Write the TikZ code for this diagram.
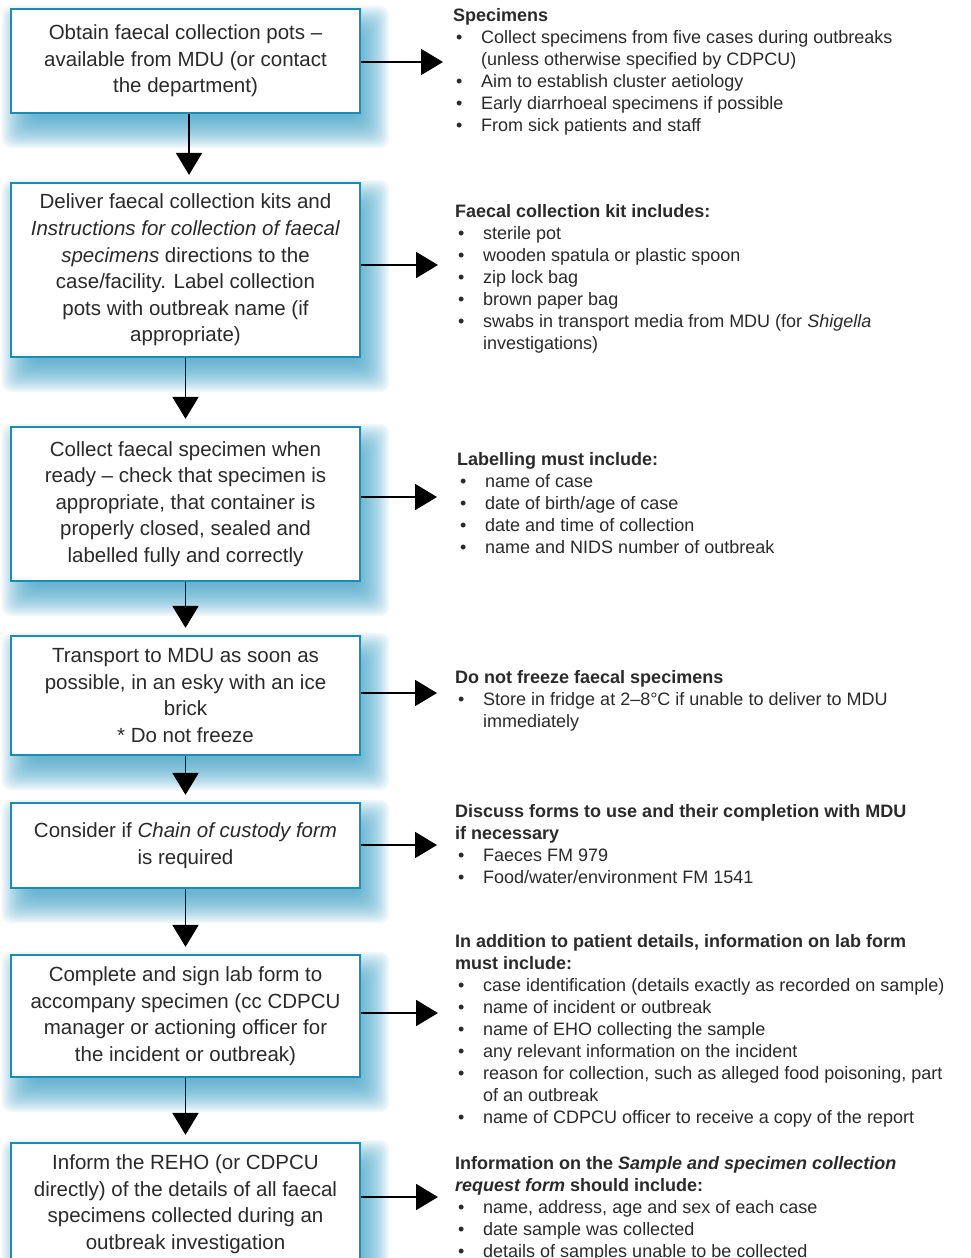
\documentclass[tikz,border=0pt]{standalone}
\usepackage{fontspec}
\setmainfont{Liberation Sans}
\usetikzlibrary{arrows.meta,backgrounds}
\definecolor{boxc}{HTML}{1A8CB5}
\definecolor{shc}{HTML}{3AA0C8}
\definecolor{txt}{HTML}{2A2A2A}
\newcommand{\bl}{\makebox[28pt][l]{\hspace{3pt}•}}
\newcommand{\cn}{\hspace*{28pt}}
\newcommand{\fs}{\rule{0pt}{14pt}}
\newcommand{\shbox}[1]{%
  \foreach \e in {-12,-10,...,18}{%
    \fill[shc,opacity=0.08,rounded corners=9pt]
      ([shift={(10-\e,16-\e)}]#1.north west) rectangle ([shift={(10+\e,16+\e)}]#1.south east);}}
\begin{document}
\begin{tikzpicture}[x=1pt,y=-1pt,
  flowbox/.style={draw=boxc,line width=2.2pt,fill=white,minimum width=349pt,inner sep=4pt,
    align=center,text=txt,font=\fontsize{20.5}{26.6}\selectfont},
  info/.style={anchor=north west,align=left,inner sep=0pt,text=txt,font=\fontsize{18}{22}\selectfont},
  arr/.style={line width=1.8pt,-{Triangle[length=22pt,width=26pt]}}]
\useasboundingbox (0,0) rectangle (971,1258);
% boxes
\node[flowbox,minimum height=104pt] (b1) at (185.5,61) {Obtain faecal collection pots –\\available from MDU (or contact\\the department)};
\node[flowbox,minimum height=174pt] (b2) at (185.5,270) {Deliver faecal collection kits and\\\textit{Instructions for collection of faecal}\\\textit{specimens} directions to the\\case/facility. Label collection\\pots with outbreak name (if\\appropriate)};
\node[flowbox,minimum height=154pt] (b3) at (185.5,504) {Collect faecal specimen when\\ready – check that specimen is\\appropriate, that container is\\properly closed, sealed and\\labelled fully and correctly};
\node[flowbox,minimum height=119pt] (b4) at (185.5,695.5) {Transport to MDU as soon as\\possible, in an esky with an ice\\brick\\* Do not freeze};
\node[flowbox,minimum height=85pt] (b5) at (185.5,845.5) {Consider if \textit{Chain of custody form}\\is required};
\node[flowbox,minimum height=122pt] (b6) at (185.5,1016) {Complete and sign lab form to\\accompany specimen (cc CDPCU\\manager or actioning officer for\\the incident or outbreak)};
\node[flowbox,minimum height=122pt] (b7) at (185.5,1204) {Inform the REHO (or CDPCU\\directly) of the details of all faecal\\specimens collected during an\\outbreak investigation};
% shadows
\begin{scope}[on background layer]
\fill[white] (0,0) rectangle (971,1258);
\shbox{b1}\shbox{b2}\shbox{b3}\shbox{b4}\shbox{b5}\shbox{b6}\shbox{b7}
\end{scope}
% down arrows
\draw[arr,shorten >=7pt] ([xshift=3.5pt]b1.south) -- ([xshift=3.5pt]b2.north);
\draw[arr,shorten >=7pt] (b2.south) -- (b3.north);
\draw[arr,shorten >=7pt] (b3.south) -- (b4.north);
\draw[arr,shorten >=7pt] (b4.south) -- (b5.north);
\draw[arr,shorten >=7pt] (b5.south) -- (b6.north);
\draw[arr,shorten >=7pt] (b6.south) -- (b7.north);
% right arrows
\coordinate (r1) at (443,62);
\coordinate (r2) at (438,265);
\coordinate (r3) at (437,497);
\coordinate (r4) at (437,693);
\coordinate (r5) at (437,845);
\coordinate (r6) at (438,1013);
\coordinate (r7) at (438,1197);
\draw[arr] (b1.east |- r1) -- (r1);
\draw[arr] (b2.east |- r2) -- (r2);
\draw[arr] (b3.east |- r3) -- (r3);
\draw[arr] (b4.east |- r4) -- (r4);
\draw[arr] (b5.east |- r5) -- (r5);
\draw[arr] (b6.east |- r6) -- (r6);
\draw[arr] (b7.east |- r7) -- (r7);
% info texts (first baseline = y + 14)
\node[info] (t1) at (453,7) {\fs\textbf{Specimens}\\
\bl Collect specimens from five cases during outbreaks\\
\cn (unless otherwise specified by CDPCU)\\
\bl Aim to establish cluster aetiology\\
\bl Early diarrhoeal specimens if possible\\
\bl From sick patients and staff};
\node[info] (t2) at (455,203) {\fs\textbf{Faecal collection kit includes:}\\
\bl sterile pot\\
\bl wooden spatula or plastic spoon\\
\bl zip lock bag\\
\bl brown paper bag\\
\bl swabs in transport media from MDU (for \textit{Shigella}\\
\cn investigations)};
\node[info] (t3) at (457,451) {\fs\textbf{Labelling must include:}\\
\bl name of case\\
\bl date of birth/age of case\\
\bl date and time of collection\\
\bl name and NIDS number of outbreak};
\node[info] (t4) at (455,669) {\fs\textbf{Do not freeze faecal specimens}\\
\bl Store in fridge at 2–8°C if unable to deliver to MDU\\
\cn immediately};
\node[info] (t5) at (455,803) {\fs\textbf{Discuss forms to use and their completion with MDU}\\
\textbf{if necessary}\\
\bl Faeces FM 979\\
\bl Food/water/environment FM 1541};
\node[info] (t6) at (455,933) {\fs\textbf{In addition to patient details, information on lab form}\\
\textbf{must include:}\\
\bl case identification (details exactly as recorded on sample)\\
\bl name of incident or outbreak\\
\bl name of EHO collecting the sample\\
\bl any relevant information on the incident\\
\bl reason for collection, such as alleged food poisoning, part\\
\cn of an outbreak\\
\bl name of CDPCU officer to receive a copy of the report};
\node[info] (t7) at (455,1155) {\fs\textbf{Information on the \textit{Sample and specimen collection}}\\
\textbf{\textit{request form} should include:}\\
\bl name, address, age and sex of each case\\
\bl date sample was collected\\
\bl details of samples unable to be collected};
\end{tikzpicture}
\end{document}
